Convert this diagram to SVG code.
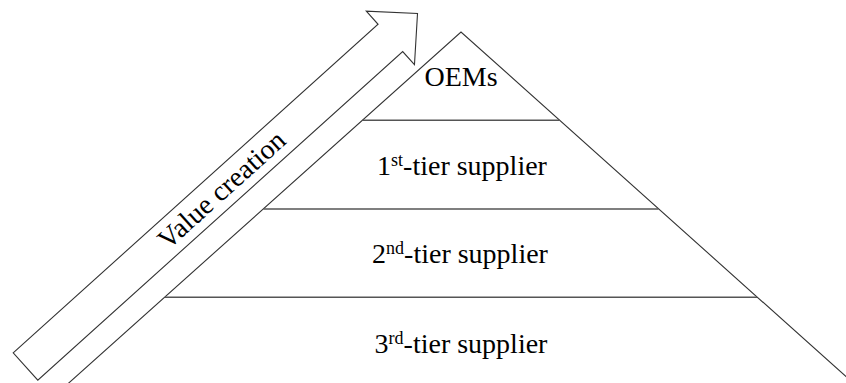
<svg xmlns="http://www.w3.org/2000/svg" width="846" height="383" viewBox="0 0 846 383">
  <style>
    .outline { fill: none; stroke: #333; stroke-width: 1.1; stroke-linejoin: miter; }
    .divider { fill: none; stroke: #555; stroke-width: 1.4; }
    .label { font-family: "Liberation Serif", "Times New Roman", serif; font-size: 28px; fill: #000; text-anchor: middle; }
    .sup { font-size: 18px; }
  </style>
  <rect width="846" height="383" fill="#fff"/>

  <!-- Pyramid sides -->
  <g id="pyramid">
    <polyline class="outline" points="57.6,393 461,32 864.4,393"/>
  </g>

  <!-- Tier dividers -->
  <g id="connectors">
    <line class="divider" x1="362.8" y1="120.3" x2="559.2" y2="120.3"/>
    <line class="divider" x1="263.5" y1="209" x2="658.5" y2="209"/>
    <line class="divider" x1="165" y1="297.3" x2="757" y2="297.3"/>
  </g>

  <g id="tier-oem">
    <text class="label" x="461" y="85.5">OEMs</text>
  </g>
  <g id="tier-1">
    <text class="label" x="462" y="175">1<tspan class="sup" dy="-9">st</tspan><tspan dy="9">-tier supplier</tspan></text>
  </g>
  <g id="tier-2">
    <text class="label" x="460" y="263">2<tspan class="sup" dy="-9">nd</tspan><tspan dy="9">-tier supplier</tspan></text>
  </g>
  <g id="tier-3">
    <text class="label" x="461" y="353">3<tspan class="sup" dy="-9">rd</tspan><tspan dy="9">-tier supplier</tspan></text>
  </g>

  <!-- Block arrow along the left flank -->
  <g id="value-arrow" transform="translate(25.5,366.5) rotate(-42)">
    <path class="outline" d="M0,-18.4 L491,-18.4 L491,-36 L527.5,0 L491,36 L491,18.4 L0,18.4 Z" fill="#fff"/>
    <text class="label" x="264" y="9">Value creation</text>
  </g>
</svg>
